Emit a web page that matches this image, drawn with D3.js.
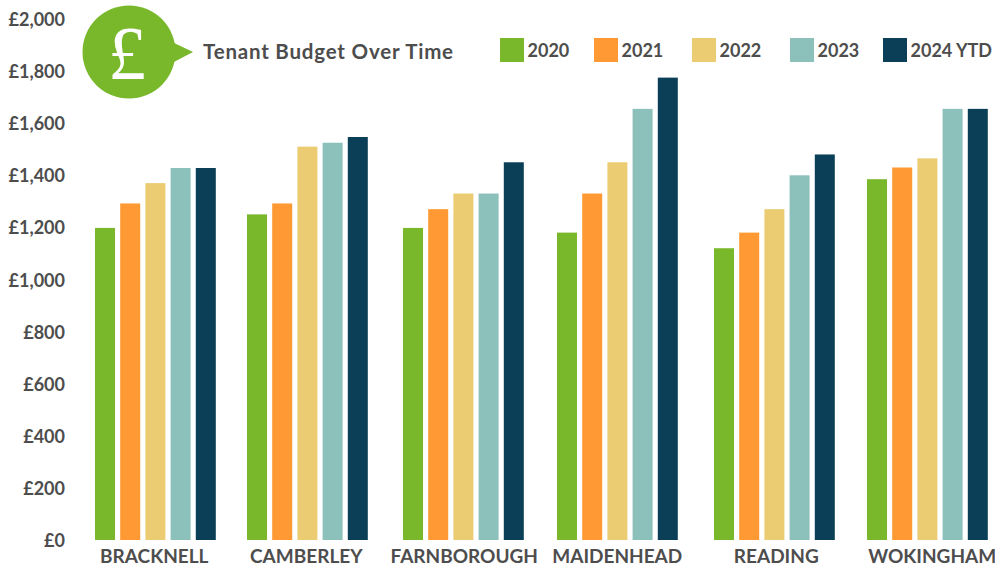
<!DOCTYPE html>
<html><head><meta charset="utf-8">
<script src="https://cdnjs.cloudflare.com/ajax/libs/d3/7.8.5/d3.min.js"></script>
<style>html,body{margin:0;padding:0;background:#fff}svg{display:block}text{font-family:Lato,sans-serif;font-weight:700;fill:#4d4d4d}</style>
</head><body><svg id="c" width="995" height="567"></svg>
<script>
const categories=["BRACKNELL","CAMBERLEY","FARNBOROUGH","MAIDENHEAD","READING","WOKINGHAM"];
const seriesNames=["2020","2021","2022","2023","2024 YTD"];
const colors=["#78b82a","#ff9933","#ebcc72","#8cc0ba","#0b3f58"];
const v2020=[1198,1250,1198,1180,1120,1385];
const v2021=[1292,1292,1270,1330,1180,1430];
const v2022=[1370,1510,1330,1450,1270,1465];
const v2023=[1428,1525,1330,1655,1400,1655];
const v2024=[1428,1547,1450,1775,1480,1655];
const seriesValues=[v2020,v2021,v2022,v2023,v2024];
const yTicks=[0,200,400,600,800,1000,1200,1400,1600,1800,2000];
const legendX=[500,594,692,790,883];
const groupNudge=[0,-2.5,-1,-1.5,1,-0.5];
const labelNudge=[-1,-3.5,0,-1.5,3,4.5];

const svg=d3.select("#c");
const y=d3.scaleLinear().domain([0,2000]).range([540,19]);
const x0=d3.scaleBand().domain(categories).range([78,1005]);
const x1=d3.scaleBand().domain(seriesNames).range([17,137.8]).paddingInner(0.206).paddingOuter(0);

const yAxis=d3.axisLeft(y).tickValues(yTicks).tickSize(0).tickPadding(0).tickFormat(d=>"£"+d3.format(",")(d));
const ga=svg.append("g").attr("transform","translate(65,0.8)").call(yAxis);
ga.select(".domain").remove();
ga.selectAll("text").style("font-size","18px").style("font-family","Lato,sans-serif");

const g=svg.selectAll("g.grp").data(categories).join("g").attr("class","grp")
  .attr("transform",(d,i)=>`translate(${x0(d)+groupNudge[i]},0)`);
g.selectAll("rect").data((d,i)=>seriesNames.map((s,j)=>({s,j,v:seriesValues[j][i]}))).join("rect")
  .attr("x",d=>x1(d.s)).attr("width",x1.bandwidth())
  .attr("y",d=>y(d.v)).attr("height",d=>y(0)-y(d.v)).attr("fill",d=>colors[d.j]);

const xAxis=d3.axisBottom(x0).tickSize(0).tickPadding(0);
const gx=svg.append("g").attr("transform","translate(0,548)").call(xAxis);
gx.select(".domain").remove();
gx.selectAll("text").style("font-size","19px").style("font-family","Lato,sans-serif").attr("dy","0.8em")
  .attr("x",(d,i)=>labelNudge[i]);

const ic=svg.append("g");
ic.append("circle").attr("cx",129).attr("cy",52).attr("r",46.5).attr("fill",colors[0]);
ic.append("path").attr("d","M170,41L193,52L170,64Z").attr("fill",colors[0]);
ic.append("text").attr("x",127).attr("y",79).attr("text-anchor","middle")
  .style("font-family","'Liberation Serif',serif").style("font-weight",400)
  .style("font-size","76px").style("fill","#fff").text("£");
svg.append("text").attr("x",203).attr("y",59).style("font-size","20.5px").style("letter-spacing","0.8px").text("Tenant Budget Over Time");

const lg=svg.selectAll("g.lg").data(seriesNames).join("g").attr("class","lg")
  .attr("transform",(d,i)=>`translate(${legendX[i]},38)`);
lg.append("rect").attr("width",24).attr("height",24).attr("fill",(d,i)=>colors[i]);
lg.append("text").attr("x",27.5).attr("y",18.5).style("font-size","18px").text(d=>d);
</script></body></html>
